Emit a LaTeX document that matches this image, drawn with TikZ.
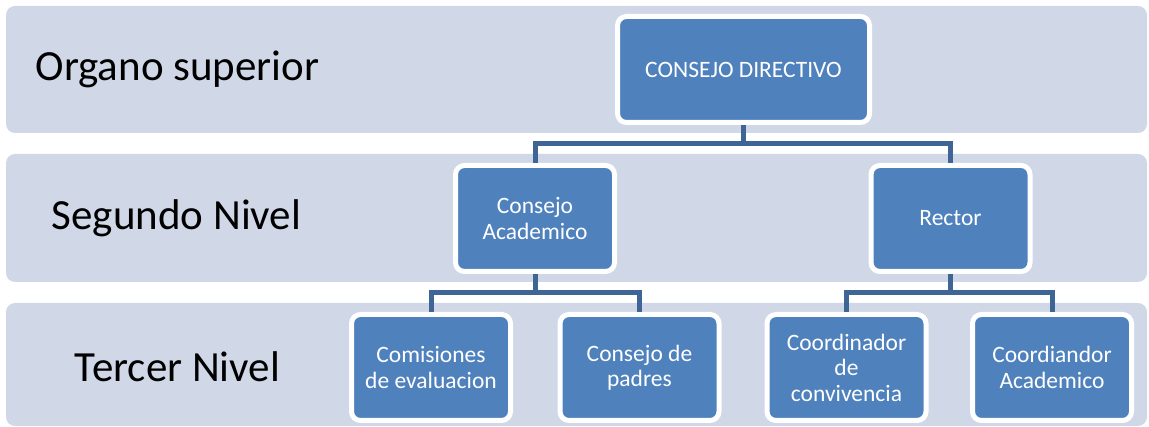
\documentclass[tikz,border=0pt]{standalone}
\usepackage{fontspec}
\setmainfont{Carlito}
\definecolor{bandfill}{RGB}{208,216,232}
\definecolor{boxfill}{RGB}{79,129,189}
\definecolor{linkcol}{RGB}{62,101,150}
\begin{document}
\begin{tikzpicture}[x=1pt,y=-1pt,
band/.style={fill=bandfill, rounded corners=9pt, minimum width=1141pt, inner sep=0pt},
level/.style={font=\fontsize{43}{50}\selectfont, inner sep=0pt},
unit/.style={fill=boxfill, draw=white, line width=5pt, rounded corners=9pt, text=white,
  align=center, font=\fontsize{23.5}{25.5}\selectfont, minimum width=159pt, minimum height=106pt, inner sep=2pt},
link/.style={draw=linkcol, line width=5pt}]
\useasboundingbox (0,0) rectangle (1149,427);
% bands
\node[band, minimum height=127pt] (band1) at (576.5,69.5) {};
\node[band, minimum height=128pt] (band2) at (576.5,218) {};
\node[band, minimum height=123pt] (band3) at (576.5,364.5) {};
\node[level] (lvl1) at (177.5,69.5) {Organo superior};
\node[level] (lvl2) at (176.5,218) {Segundo Nivel};
\node[level] (lvl3) at (177.5,367) {Tercer Nivel};
% units
\node[unit, minimum width=252pt] (cd) at (743.5,69.5) {CONSEJO DIRECTIVO};
\node[unit] (ca) at (535,218.5) {Consejo\\Academico};
\node[unit] (rec) at (950.5,218.5) {Rector};
\node[unit] (com) at (431,367.5) {Comisiones\\de evaluacion};
\node[unit] (pad) at (639.5,367.5) {Consejo de\\padres};
\node[unit] (conv) at (846.5,367.5) {Coordinador\\de\\convivencia};
\node[unit] (acad) at (1052,367.5) {Coordiandor\\Academico};
% links
\coordinate (top) at (743.5,144);
\coordinate (midA) at (535,293);
\coordinate (midR) at (950.5,293);
\draw[link] (cd.south) -- (top);
\draw[link] (ca.north) |- (top) -| (rec.north);
\draw[link] (ca.south) -- (midA);
\draw[link] (com.north) |- (midA) -| (pad.north);
\draw[link] (rec.south) -- (midR);
\draw[link] (conv.north) |- (midR) -| (acad.north);
\end{tikzpicture}
\end{document}
